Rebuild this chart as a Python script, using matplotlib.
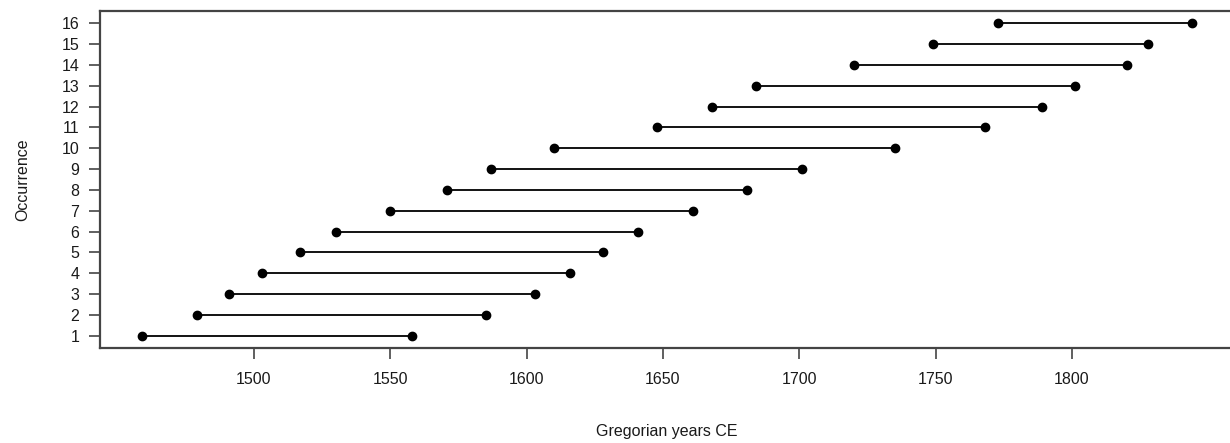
import matplotlib
matplotlib.use("Agg")
import matplotlib.pyplot as plt

# start / end year of each occurrence
occurrence = list(range(1, 17))
start_year = [1459, 1479, 1491, 1503, 1517, 1530, 1550, 1571,
              1587, 1610, 1648, 1668, 1684, 1720, 1749, 1773]
end_year = [1558, 1585, 1603, 1616, 1628, 1641, 1661, 1681,
            1701, 1735, 1768, 1789, 1801, 1820, 1828, 1844]
x_ticks = [1500, 1550, 1600, 1650, 1700, 1750, 1800]

plt.rcParams['font.family'] = ['Liberation Sans', 'DejaVu Sans']
plt.rcParams['font.size'] = 11.5

fig = plt.figure(figsize=(12.3, 4.43), dpi=100)
# axes box in pixels: left 100, right ~1234 (cut off), top 11, bottom 348
ax = fig.add_axes([100 / 1230, (443 - 348) / 443, 1134 / 1230, 337 / 443])

for y, a, b in zip(occurrence, start_year, end_year):
    ax.plot([a, b], [y, y], color='black', linewidth=1.3, zorder=2)
ax.plot(start_year, occurrence, 'o', color='black', markersize=6, zorder=3)
ax.plot(end_year, occurrence, 'o', color='black', markersize=6, zorder=3)

# R style 4% axis extension
lo, hi = min(start_year), max(end_year)
pad = 0.04 * (hi - lo)
ax.set_xlim(lo - pad, hi + pad)
ax.set_ylim(1 - 0.04 * 15, 16 + 0.04 * 15)

ax.set_xticks(x_ticks)
ax.set_xticklabels([str(t) for t in x_ticks])
ax.set_yticks(occurrence)
ax.set_yticklabels([str(o) for o in occurrence])

for s in ax.spines.values():
    s.set_color('#444444')
    s.set_linewidth(1.6)
ax.tick_params(axis='both', direction='out', length=8, width=1.2,
               color='#444444', labelcolor='#1a1a1a')
ax.tick_params(axis='x', pad=9)
ax.tick_params(axis='y', pad=7)

ax.set_xlabel('Gregorian years CE', labelpad=27, color='#1a1a1a')
ax.set_ylabel('Occurrence', labelpad=22, color='#1a1a1a')

fig.savefig('out.png', dpi=100)
